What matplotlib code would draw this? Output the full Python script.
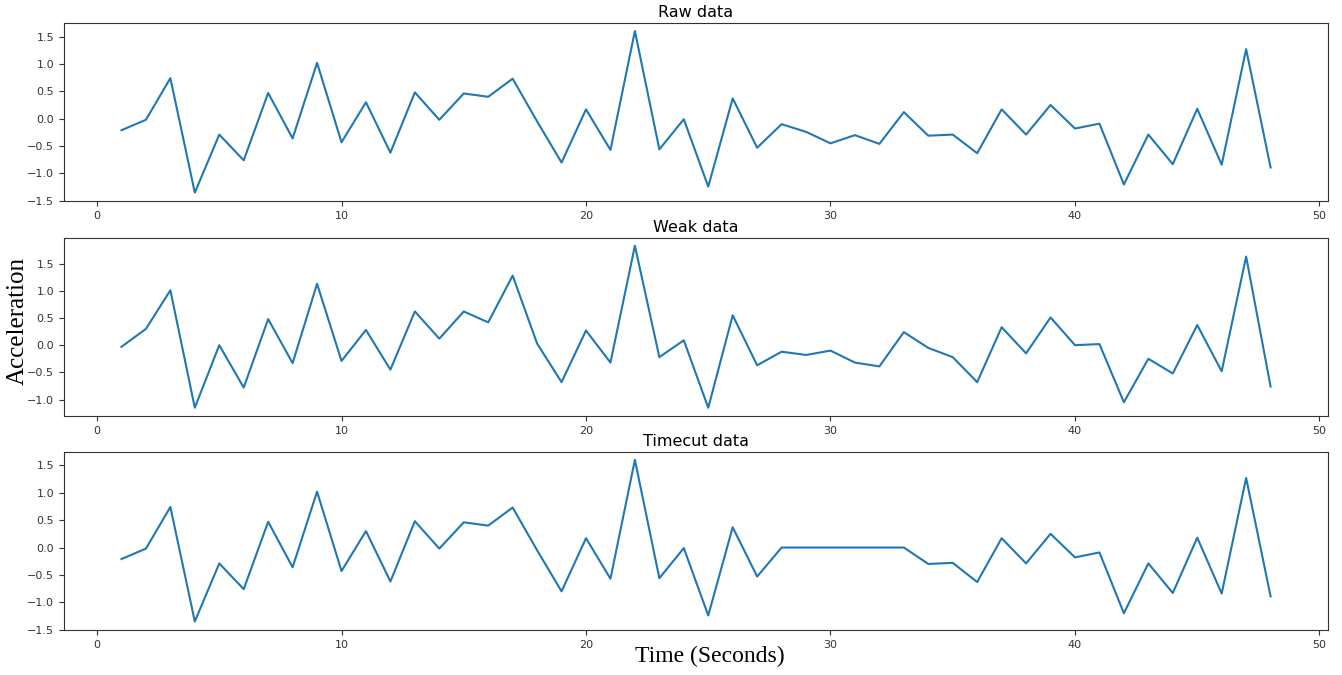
import numpy as np
import matplotlib
matplotlib.use("Agg")
import matplotlib.pyplot as plt

# --- Data ---
t = np.arange(1, 49)

raw = [-0.21, -0.02, 0.74, -1.35, -0.29, -0.76, 0.47, -0.36, 1.02, -0.43,
       0.30, -0.62, 0.48, -0.02, 0.46, 0.40, 0.73, -0.05, -0.80, 0.17,
       -0.57, 1.60, -0.56, -0.01, -1.24, 0.37, -0.53, -0.10, -0.24, -0.45,
       -0.30, -0.46, 0.12, -0.31, -0.29, -0.63, 0.17, -0.29, 0.25, -0.18,
       -0.09, -1.20, -0.29, -0.83, 0.18, -0.84, 1.27, -0.89]

weak = [-0.03, 0.30, 1.01, -1.15, 0.00, -0.78, 0.48, -0.33, 1.13, -0.29,
        0.28, -0.45, 0.62, 0.12, 0.62, 0.42, 1.28, 0.03, -0.68, 0.27,
        -0.32, 1.83, -0.22, 0.09, -1.15, 0.55, -0.37, -0.12, -0.18, -0.10,
        -0.32, -0.39, 0.24, -0.05, -0.22, -0.68, 0.33, -0.15, 0.51, 0.00,
        0.02, -1.05, -0.25, -0.52, 0.37, -0.48, 1.63, -0.76]

timecut = [-0.21, -0.02, 0.74, -1.35, -0.29, -0.76, 0.47, -0.36, 1.02, -0.43,
           0.30, -0.62, 0.48, -0.02, 0.46, 0.40, 0.73, -0.05, -0.80, 0.17,
           -0.57, 1.60, -0.56, -0.01, -1.24, 0.37, -0.53, 0.00, 0.00, 0.00,
           0.00, 0.00, 0.00, -0.30, -0.28, -0.63, 0.17, -0.29, 0.25, -0.18,
           -0.09, -1.20, -0.29, -0.83, 0.18, -0.84, 1.27, -0.89]

titles = ["Raw data", "Weak data", "Timecut data"]
series = [raw, weak, timecut]

# --- Plot ---
fig = plt.figure(figsize=(13.42, 6.75), dpi=100)
left, width, height = 0.0477, 0.9419, 0.264
bottoms = [0.702, 0.384, 0.0667]

for b, title, y in zip(bottoms, titles, series):
    ax = fig.add_axes([left, b, width, height])
    ax.plot(t, y, color="#1f77b4", lw=1.5)
    ax.set_title(title, fontsize=11.5, pad=4)
    ax.set_xticks([0, 10, 20, 30, 40, 50])
    lo, hi = ax.get_ylim()
    if lo > -1.5 and lo < -1.45:
        ax.set_ylim(-1.505, hi)
    ax.tick_params(labelsize=8, colors="#333333")
    for s in ax.spines.values():
        s.set_color("#333333")

fig.text(0.013, 0.524, "Acceleration", rotation=90, ha="center", va="center",
         family="Liberation Serif", fontsize=18)
fig.text(0.529, 0.027, "Time (Seconds)", ha="center", va="center",
         family="Liberation Serif", fontsize=17)

fig.savefig("out.png", dpi=100)
